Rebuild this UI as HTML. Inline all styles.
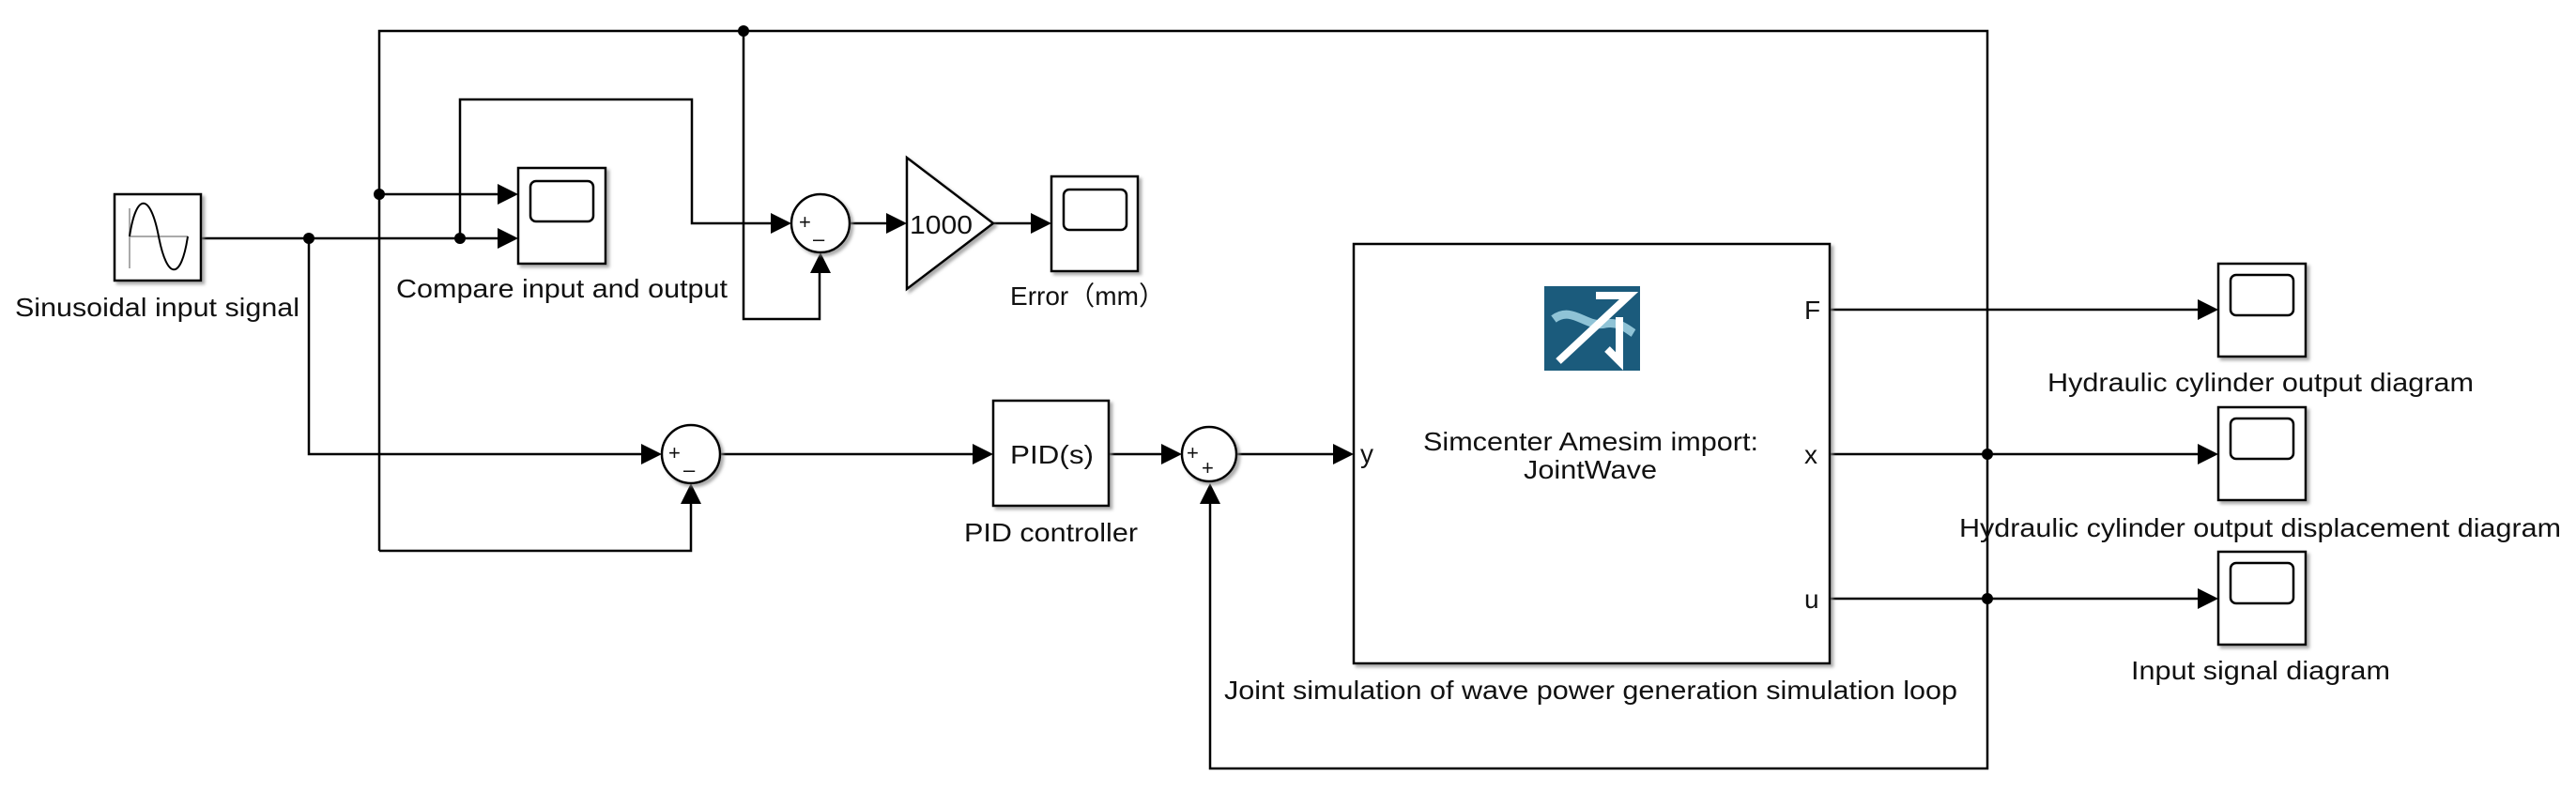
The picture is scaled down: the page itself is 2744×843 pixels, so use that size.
<!DOCTYPE html>
<html><head><meta charset="utf-8"><style>
html,body{margin:0;padding:0;background:#fff;}
svg{display:block;}
text{font-family:"Liberation Sans","Noto Sans CJK SC",sans-serif;fill:#111;}
</style></head><body>
<svg width="2744" height="843" viewBox="0 0 2744 843" xmlns="http://www.w3.org/2000/svg">
<defs>
<filter id="sh" x="-10%" y="-10%" width="130%" height="130%"><feDropShadow dx="3" dy="3" stdDeviation="1.5" flood-color="#888" flood-opacity="0.7"/></filter>
</defs>
<g fill="none" stroke="#000" stroke-width="2.5">
<!-- top loop -->
<polyline points="404,587 404,33 2117,33 2117,819 1289,819 1289,537"/>
<line x1="2117" y1="484" x2="2117" y2="484"/>
<!-- sine out -->
<polyline points="214,254 530,254"/>
<polyline points="404,207 530,207"/>
<!-- branch to sum1 -->
<polyline points="490,254 490,106 737,106 737,238 822,238"/>
<polyline points="792,33 792,340 873,340 873,291"/>
<line x1="905" y1="238" x2="944" y2="238"/>
<line x1="1058" y1="238" x2="1098" y2="238"/>
<!-- lower -->
<polyline points="329,254 329,484 683,484"/>
<polyline points="404,587 736,587 736,537"/>
<line x1="767" y1="484" x2="1036" y2="484"/>
<line x1="1181" y1="484" x2="1237" y2="484"/>
<line x1="1318" y1="484" x2="1420" y2="484"/>
<!-- outputs -->
<line x1="1949" y1="330" x2="2341" y2="330"/>
<line x1="1949" y1="484" x2="2341" y2="484"/>
<line x1="1949" y1="638" x2="2341" y2="638"/>
</g>
<!-- arrowheads -->
<g fill="#000">
<polygon points="552,207 530,196 530,218"/>
<polygon points="552,254 530,243 530,265"/>
<polygon points="843,238 821,227 821,249"/>
<polygon points="874,269 863,291 885,291"/>
<polygon points="966,238 944,227 944,249"/>
<polygon points="1120,238 1098,227 1098,249"/>
<polygon points="705,484 683,473 683,495"/>
<polygon points="736,515 725,537 747,537"/>
<polygon points="1058,484 1036,473 1036,495"/>
<polygon points="1259,484 1237,473 1237,495"/>
<polygon points="1289,515 1278,537 1300,537"/>
<polygon points="1442,484 1420,473 1420,495"/>
<polygon points="2363,330 2341,319 2341,341"/>
<polygon points="2363,484 2341,473 2341,495"/>
<polygon points="2363,638 2341,627 2341,649"/>
<!-- dots -->
<circle cx="792" cy="33" r="6"/>
<circle cx="404" cy="207" r="6"/>
<circle cx="329" cy="254" r="6"/>
<circle cx="490" cy="254" r="6"/>
<circle cx="2117" cy="484" r="6"/>
<circle cx="2117" cy="638" r="6"/>
</g>
<!-- blocks -->
<g fill="#fff" stroke="#000" stroke-width="2.5" filter="url(#sh)">
<rect x="122" y="207" width="92" height="92"/>
<rect x="552" y="179" width="93" height="102"/>
<circle cx="874" cy="238" r="31"/>
<polygon points="966,168 1058,238 966,308"/>
<rect x="1120" y="188" width="92" height="101"/>
<circle cx="736" cy="484" r="31"/>
<rect x="1058" y="427" width="123" height="112"/>
<circle cx="1288" cy="484" r="29"/>
<rect x="1442" y="260" width="507" height="447"/>
<rect x="2363" y="281" width="93" height="99"/>
<rect x="2363" y="434" width="93" height="99"/>
<rect x="2363" y="588" width="93" height="99"/>
</g>
<!-- scope screens -->
<g fill="none" stroke="#000" stroke-width="2.5">
<rect x="565" y="193" width="67" height="43" rx="6"/>
<rect x="1133" y="202" width="67" height="43" rx="6"/>
<rect x="2376" y="293" width="67" height="43" rx="6"/>
<rect x="2376" y="446" width="67" height="43" rx="6"/>
<rect x="2376" y="600" width="67" height="43" rx="6"/>
</g>
<!-- sine -->
<line x1="138" y1="252" x2="200" y2="252" stroke="#aaa" stroke-width="2"/>
<line x1="138" y1="222" x2="138" y2="286" stroke="#aaa" stroke-width="2"/>
<path d="M138,252 C145,205 160,205 169,252 C178,299 193,299 200,252" fill="none" stroke="#000" stroke-width="2"/>
<!-- icon -->
<rect x="1645" y="305" width="102" height="90" fill="#1b5b7c"/>
<path d="M1655,340 C1675,325 1690,350 1710,345 C1725,342 1735,352 1740,355" fill="none" stroke="#8fc3d6" stroke-width="9"/>
<polyline points="1700,315 1735,315 1660,385" fill="none" stroke="#fff" stroke-width="8"/>
<polyline points="1725,338 1725,385 1712,372" fill="none" stroke="#fff" stroke-width="8"/>
<!-- signs -->
<g font-size="22">
<text x="851" y="244">+</text><text x="866" y="262">–</text>
<text x="712" y="490">+</text><text x="728" y="508">–</text>
<text x="1264" y="490">+</text><text x="1280" y="506">+</text>
</g>
<!-- labels -->
<g font-size="28">
<text x="16" y="337" textLength="303" lengthAdjust="spacingAndGlyphs">Sinusoidal input signal</text>
<text x="422" y="317" textLength="353" lengthAdjust="spacingAndGlyphs">Compare input and output</text>
<text x="1076" y="325" textLength="165" lengthAdjust="spacingAndGlyphs">Error（mm）</text>
<text x="969" y="249" textLength="67" lengthAdjust="spacingAndGlyphs">1000</text>
<text x="1076" y="494" textLength="89" lengthAdjust="spacingAndGlyphs">PID(s)</text>
<text x="1027" y="577" textLength="185" lengthAdjust="spacingAndGlyphs">PID controller</text>
<text x="1304" y="745" textLength="781" lengthAdjust="spacingAndGlyphs">Joint simulation of wave power generation simulation loop</text>
<text x="1516" y="480" textLength="357" lengthAdjust="spacingAndGlyphs">Simcenter Amesim import:</text>
<text x="1623" y="510" textLength="142" lengthAdjust="spacingAndGlyphs">JointWave</text>
<text x="1449" y="493">y</text>
<text x="1922" y="340">F</text>
<text x="1922" y="494">x</text>
<text x="1922" y="648">u</text>
<text x="2181" y="417" textLength="454" lengthAdjust="spacingAndGlyphs">Hydraulic cylinder output diagram</text>
<text x="2087" y="572" textLength="641" lengthAdjust="spacingAndGlyphs">Hydraulic cylinder output displacement diagram</text>
<text x="2270" y="724" textLength="276" lengthAdjust="spacingAndGlyphs">Input signal diagram</text>
</g>
</svg>
</body></html>
